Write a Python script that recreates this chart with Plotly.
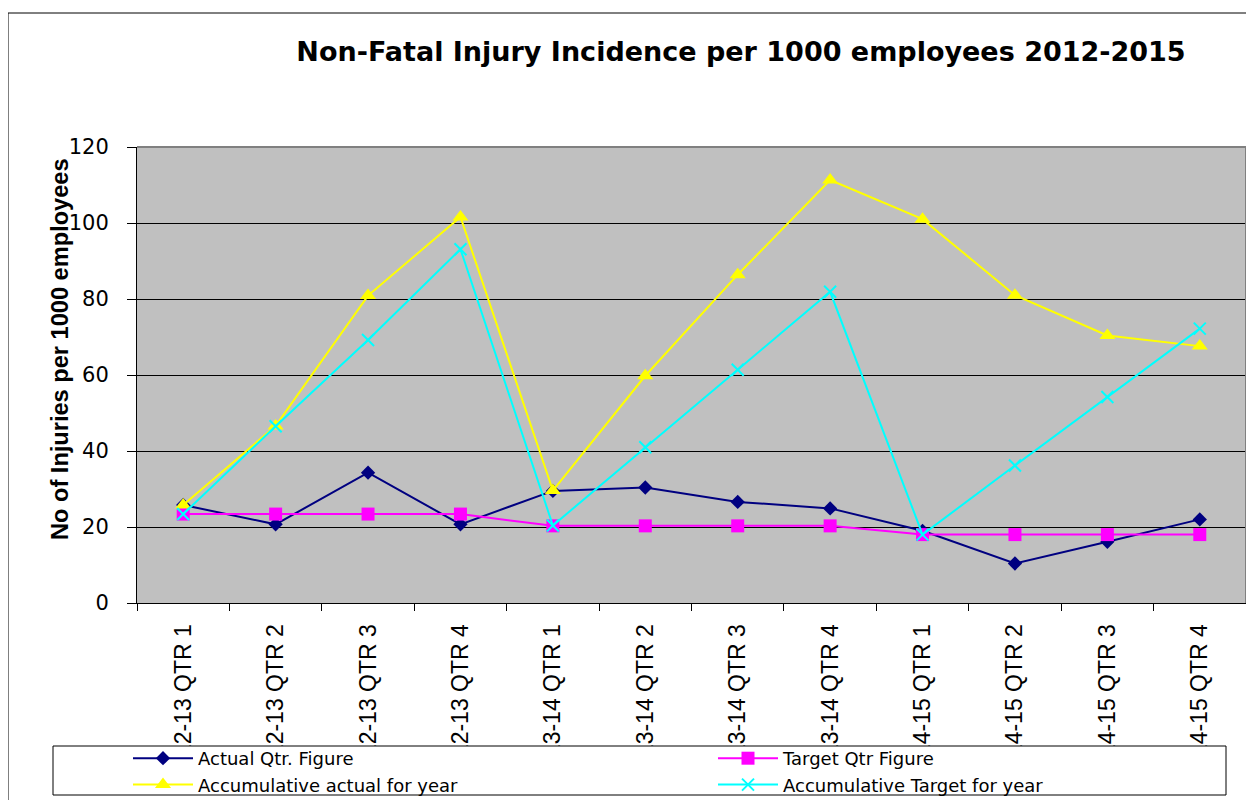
import plotly.graph_objects as go

categories = ["2012-13 QTR 1", "2012-13 QTR 2", "2012-13 QTR 3", "2012-13 QTR 4",
              "2013-14 QTR 1", "2013-14 QTR 2", "2013-14 QTR 3", "2013-14 QTR 4",
              "2014-15 QTR 1", "2014-15 QTR 2", "2014-15 QTR 3", "2014-15 QTR 4"]
actual_qtr = [25.8, 20.7, 34.3, 20.7, 29.5, 30.4, 26.6, 24.9, 19.0, 10.4, 16.1, 22.0]
target_qtr = [23.4, 23.4, 23.4, 23.4, 20.3, 20.3, 20.3, 20.3, 18.0, 18.0, 18.0, 18.0]
accum_actual = [25.8, 46.6, 80.9, 101.6, 29.6, 59.8, 86.4, 111.3, 101.0, 81.0, 70.4, 67.6]
accum_target = [23.4, 46.5, 69.2, 93.1, 20.4, 41.0, 61.4, 81.9, 18.0, 36.2, 54.2, 72.2]
y_ticks = [0, 20, 40, 60, 80, 100, 120]

# page body has an 8px margin; figure is drawn at (8, 8)
OFF = 8
W, H = 1254 - OFF, 800 - OFF
# plot area in page pixels: x 137..1246, y 147..603
L = 137 - OFF
R = W - (1246 - OFF)
T = 147 - OFF
B = H - (603 - OFF)
PW = W - L - R
PH = H - T - B


def px_x(x):
    """page pixel x -> paper x"""
    return (x - OFF - L) / PW


def px_y(y):
    """page pixel y -> paper y"""
    return (H - B - (y - OFF)) / PH


fig = go.Figure()
fig.add_trace(go.Scatter(
    x=categories, y=actual_qtr, name="Actual Qtr. Figure", mode="lines+markers",
    line=dict(color="#000080", width=2),
    marker=dict(symbol="diamond", size=11, color="#000080")))
fig.add_trace(go.Scatter(
    x=categories, y=target_qtr, name="Target Qtr Figure", mode="lines+markers",
    line=dict(color="#FF00FF", width=2),
    marker=dict(symbol="square", size=13, color="#FF00FF")))
fig.add_trace(go.Scatter(
    x=categories, y=accum_actual, name="Accumulative actual for year", mode="lines+markers",
    line=dict(color="#FFFF00", width=2),
    marker=dict(symbol="triangle-up", size=14, color="#FFFF00")))
fig.add_trace(go.Scatter(
    x=categories, y=accum_target, name="Accumulative Target for year", mode="lines+markers",
    line=dict(color="#00FFFF", width=2),
    marker=dict(symbol="x-thin", size=12, color="#00FFFF",
                line=dict(color="#00FFFF", width=2))))

shapes = [
    # outer chart border
    dict(type="rect", xref="paper", yref="paper",
         x0=px_x(8), x1=px_x(1300), y0=px_y(840), y1=px_y(13),
         line=dict(color="black", width=1), fillcolor="rgba(0,0,0,0)", layer="below"),
    # plot area top / right border (grey)
    dict(type="line", xref="paper", yref="paper", x0=0, x1=1, y0=1, y1=1,
         line=dict(color="#808080", width=2), layer="above"),
    dict(type="line", xref="paper", yref="paper", x0=1, x1=1, y0=0, y1=1,
         line=dict(color="#808080", width=2), layer="above"),
    # legend box
    dict(type="rect", xref="paper", yref="paper",
         x0=px_x(53), x1=px_x(1226), y0=px_y(795), y1=px_y(746),
         line=dict(color="black", width=1), fillcolor="white", layer="above"),
]

fig.update_layout(
    width=W, height=H,
    margin=dict(l=L, r=R, t=T, b=B, autoexpand=False),
    paper_bgcolor="white",
    plot_bgcolor="#C0C0C0",
    font=dict(family="DejaVu Sans", color="black"),
    title=dict(text="<b>Non-Fatal Injury Incidence per 1000 employees 2012-2015</b>",
               font=dict(family="DejaVu Sans", size=27, color="black"),
               x=px_x(741), xref="paper", xanchor="center",
               y=1 - (52 - OFF) / H, yref="container", yanchor="middle"),
    showlegend=True,
    legend=dict(orientation="h", x=px_x(128), xanchor="left",
                y=px_y(740), yanchor="top",
                bgcolor="rgba(0,0,0,0)", borderwidth=0,
                itemwidth=60,
                entrywidth=510, entrywidthmode="pixels",
                font=dict(family="DejaVu Sans", size=18, color="black"),
                traceorder="normal"),
    shapes=shapes,
    annotations=[dict(text="<b>No of Injuries per 1000 employees</b>",
                      xref="paper", yref="paper", x=px_x(60), y=px_y(349),
                      textangle=-90, showarrow=False, xanchor="center", yanchor="middle",
                      font=dict(family="Liberation Sans", size=23.6, color="black"))],
)

fig.update_xaxes(
    type="category", categoryorder="array", categoryarray=categories,
    tickangle=-90, tickson="boundaries", ticks="outside", ticklen=7,
    tickcolor="black", showline=True, linecolor="black", linewidth=1,
    showgrid=False, automargin=False, ticklabelstandoff=11,
    tickfont=dict(family="Liberation Sans", size=23, color="black"),
    range=[-0.5, len(categories) - 0.5], fixedrange=True,
)
fig.update_yaxes(
    range=[0, 120], tickvals=y_ticks, ticks="outside", ticklen=9,
    tickcolor="black", showline=True, linecolor="black", linewidth=1,
    showgrid=True, gridcolor="black", gridwidth=1, zeroline=False,
    automargin=False, ticklabelstandoff=14,
    tickfont=dict(family="DejaVu Sans", size=21, color="black"),
)

fig.write_html("out.html")
